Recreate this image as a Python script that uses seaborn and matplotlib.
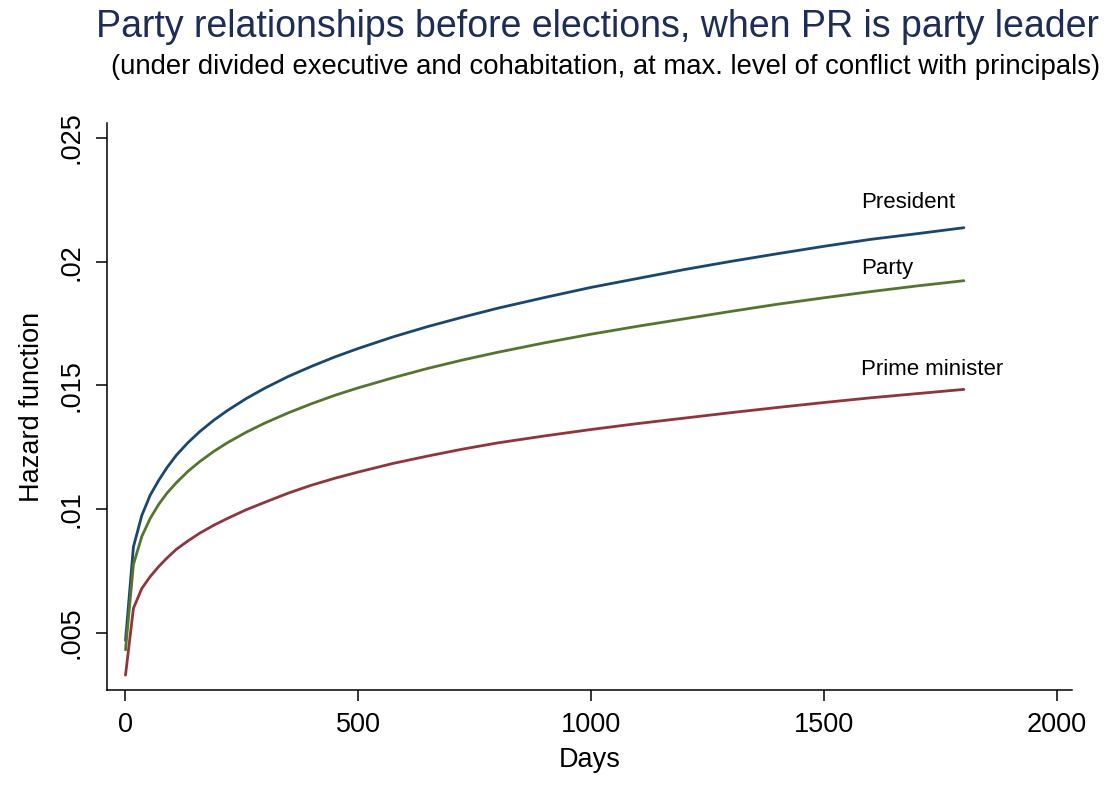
import pandas as pd
import matplotlib.pyplot as plt
import seaborn as sns

# -------------------
# Data (hazard by days)
days = [1, 18, 36, 54, 72, 90, 110, 135, 160, 190, 220, 260, 300, 350, 400, 450, 500,
        575, 650, 725, 800, 900, 1000, 1100, 1200, 1300, 1400, 1500, 1600, 1700, 1800]
president = [.0047, .00848, .00975, .01057, .01116, .01168, .01218, .01269, .01313, .01359,
             .01399, .01447, .01489, .01536, .01577, .01615, .01649, .01696, .01738, .01776,
             .01812, .01855, .01896, .01932, .01968, .02001, .02032, .02062, .0209, .02113,
             .02137]
party = [.00432, .00777, .0089, .00963, .01019, .01065, .01107, .01153, .01192, .01233,
         .01269, .01311, .01348, .01389, .01426, .0146, .0149, .01531, .01569, .01603,
         .01634, .01672, .01707, .01739, .01769, .01799, .01828, .01854, .01879, .01902,
         .01923]
prime_minister = [.0033, .006, .0068, .00728, .00768, .00803, .00838, .00872, .00903, .00935,
                  .00963, .00998, .01028, .01065, .01097, .01125, .0115, .01185, .01215,
                  .01243, .01268, .01296, .01322, .01346, .01368, .01390, .01411, .01431,
                  .0145, .01467, .01484]

series_names = ["President", "Party", "Prime minister"]
series_colors = ["#1a476f", "#55752f", "#90353b"]
x_ticks = [0, 500, 1000, 1500, 2000]
y_ticks = [.005, .01, .015, .02, .025]
y_tick_labels = [".005", ".01", ".015", ".02", ".025"]

df = pd.DataFrame({
    "Days": days * 3,
    "Hazard": president + party + prime_minister,
    "series": [n for n in series_names for _ in days],
})

# -------------------
sns.set_theme(style="ticks")
plt.rcParams["font.family"] = ["Liberation Sans", "DejaVu Sans"]

fig = plt.figure(figsize=(11.07, 7.96), dpi=100)
fig.patch.set_facecolor("white")
ax = fig.add_axes([0.0967, 0.1332, 0.8717, 0.7123])

sns.lineplot(data=df, x="Days", y="Hazard", hue="series", hue_order=series_names,
             palette=series_colors, linewidth=2.0, legend=False, ax=ax)

# labels near the end of each curve
label_y = {"President": .02218, "Party": .01952, "Prime minister": .01544}
for name in series_names:
    ax.text(1580, label_y[name], name, fontsize=16, color="black", va="baseline", ha="left")

ax.set_xlim(-38.6, 2032)
ax.set_ylim(.0027, .0256)
ax.set_xticks(x_ticks)
ax.set_yticks(y_ticks)
ax.set_yticklabels(y_tick_labels, rotation=90, va="center")
ax.tick_params(axis="both", labelsize=19.5, length=8, width=1.1, color="black",
               labelcolor="black", pad=8)

for side in ["top", "right"]:
    ax.spines[side].set_visible(False)
for side in ["left", "bottom"]:
    ax.spines[side].set_linewidth(1.1)
    ax.spines[side].set_color("black")

ax.set_xlabel("Days", fontsize=19.5, labelpad=6, color="black")
ax.set_ylabel("Hazard function", fontsize=19.5, labelpad=10, color="black")

fig.text(0.993, 0.9535, "Party relationships before elections, when PR is party leader",
         fontsize=27, color="#1e2d57", ha="right", va="baseline")
fig.text(0.994, 0.907, "(under divided executive and cohabitation, at max. level of conflict with principals)",
         fontsize=19.8, color="black", ha="right", va="baseline")

fig.savefig("out.png", dpi=100, facecolor="white")
